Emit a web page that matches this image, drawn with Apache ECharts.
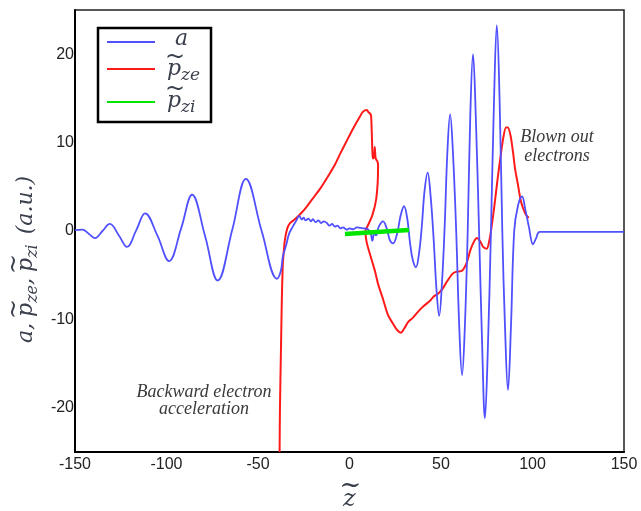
<!DOCTYPE html>
<html><head><meta charset="utf-8">
<script src="https://cdn.jsdelivr.net/npm/echarts@6/dist/echarts.min.js"></script>
<style>html,body{margin:0;padding:0;background:#fff}#c{width:641px;height:511px}</style>
</head><body><div id="c"></div>
<script>
// ---------- data ----------
const xTicks = [-150, -100, -50, 0, 50, 100, 150];
const yTicks = [-20, -10, 0, 10, 20];

// laser field a
const aZ = [-150,-146,-142.5,-139,-135,-131,-126,-121.6,-116.5,-111.7,-105,-98.6,-92,-86,-79,-72,-64,-56.6,-48,-39.6,
  -37.5,-36.5,-35.5,-34.5,-33,-31,-29,-27.5,-26,-25,-24,-22.5,-21,-20,-18.5,-17,-15.5,-14,-12.3,-11,-9.5,-8,-6.5,-5,-3.5,-1.5,0,2,4,6,8,10,11.5,12.5,13.5,14.5,16,18.3,20.5,22,23.8,26,28,29.8,31.5,33,34.5,36.3,38,39.5,41,42.7,44.3,46,47.5,49,50.5,52,53.5,55,56.5,58.3,60,61.5,63,64.6,66,67.5,69,70.8,72.5,74,75.5,77.3,79,80.5,82,83.5,85,86.6,88.2,90,92,94.3,96,98,100.3,102,104,150];
const aVal = [0.1,0.15,-0.3,-0.8,0,0.8,-0.5,-1.8,0.1,2.0,-0.5,-3.4,0.3,4.1,-0.5,-5.6,0.2,5.9,0,-5.4,
  -4.5,-3,-2.2,-1.5,-0.3,0.5,1.2,1.7,1.3,1.5,1.2,1.4,1.1,1.35,1.0,1.2,0.9,1.1,0.9,0.6,0.8,0.5,0.6,0.3,0.4,0.15,0.3,0.2,0.4,0.35,0.3,0.2,-0.2,-1.1,-0.3,-0.5,0.5,1.1,0.2,-1.0,-1.4,-0.3,1.8,2.8,1.5,-1.2,-3.2,-4.1,-2.5,0.5,4.5,6.6,4,-1,-6.5,-9.6,-6,0.5,9,13.2,9,0,-11,-16.3,-11,0,13,20,13,0,-13,-21.2,-14,0,15,23.3,15,0,-11,-18,-11,0,2.8,3.9,2.5,0.5,-1.5,-0.8,-0.1,-0.1];

// electron momentum p_ze
const pzeZ = [-38.2,-38,-37.5,-37,-36.5,-36,-35.3,-34,-32.5,-30,-27,-24,-20,-16,-12.3,-8,-5.2,-1.5,2,5,7.4,9.5,10.5,11.2,11.8,12.2,12.5,12.8,13.5,13.8,14.3,15.2,15.6,15.4,14.5,12.5,10,8.7,9.3,11,12.3,14,15.6,18,21,23.8,26,28.1,30,32,34.7,38,41,44,46,48.4,51,53,56,58.5,61.5,64,66,68,69.7,71.5,73,75,76.5,78,79.5,81,82.2,84,85.5,86.5,88,89.3,90.5,92,93.5,94.8,96.5,98];
const pzeVal = [-25,-20,-14,-8,-4,-2.5,-1,0.3,0.9,1.3,1.9,2.6,3.7,4.8,6,7.5,8.7,10.2,11.6,12.7,13.5,13.7,13.4,13.3,13.0,11,9,8.2,8.4,9.5,8.2,7.9,7.5,5.5,3.5,1.8,0.6,0,-1.2,-2.5,-3.4,-4.6,-6,-7.5,-9.5,-10.5,-11.2,-11.5,-11,-10.3,-9.8,-9,-8.4,-7.9,-7.4,-7.1,-6.5,-5.8,-4.9,-4.6,-4.5,-3.6,-2.2,-1.2,-0.8,-1.2,-1.8,-2.0,-1,1,3.4,6,7.9,10.5,11.7,11.7,10.8,9,7,5.3,3.5,2.6,1.8,1.5];

// ion momentum p_zi
const pziZ = [-2.5, 15, 32.5];
const pziVal = [-0.35, -0.1, 0.12];

const zip = (xs, ys) => xs.map((x, i) => [x, ys[i]]);

// ---------- text helpers ----------
const mctx = document.createElement('canvas').getContext('2d');
const MATH = '"DejaVu Serif"';
function mathRow(pieces, x0, yBase, color, z) {
  const els = []; let x = x0;
  pieces.forEach(p => {
    const font = `italic ${p.size}px ${MATH}`;
    mctx.font = font;
    const w = mctx.measureText(p.t).width;
    const base = yBase + (p.dy || 0);
    els.push({type: 'text', x: x, y: base - 0.3 * p.size, z: z || 10,
      style: {text: p.t, font: font, fill: color, align: 'left', verticalAlign: 'middle'}});
    if (p.tilde) {
      els.push({type: 'text', x: x + w / 2 + 1, y: base - p.size * 0.85, z: z || 10,
        style: {text: '~', font: `${Math.round(p.size*1.1)}px ${MATH}`, fill: color, align: 'center', verticalAlign: 'middle'}});
    }
    x += w + (p.gap || 0);
  });
  return els;
}

const labColor = '#3a3f4c';
const yLabelPieces = [
  {t: 'a,', size: 22, gap: 6},
  {t: 'p', size: 22, tilde: true},
  {t: 'ze', size: 16, dy: 5},
  {t: ',', size: 22, gap: 6},
  {t: 'p', size: 22, tilde: true},
  {t: 'zi', size: 16, dy: 5, gap: 10},
  {t: '(a.u.)', size: 22}
];

const legendColors = ['#5050ff', '#ff1a1a', '#00e600'];
const legendY = [42, 69, 102];

const graphic = [
  // y axis label (rotated)
  {type: 'group', x: 33, y: 343, rotation: Math.PI / 2, children: mathRow(yLabelPieces, 0, 0, labColor)},
  // x axis label
  {type: 'group', children: mathRow([{t: 'z', size: 24, tilde: true}], 343, 507, labColor)},
  // legend box
  {type: 'rect', shape: {x: 98, y: 28, width: 113, height: 94}, style: {fill: '#fff', stroke: '#000', lineWidth: 2.5}, z: 100},
  ...legendColors.map((c, i) => ({type: 'line', shape: {x1: 107, y1: legendY[i], x2: 155, y2: legendY[i]},
    style: {stroke: c, lineWidth: 2.2}, z: 101})),
  {type: 'group', children: mathRow([{t: 'a', size: 22}], 175, 46, labColor, 102)},
  {type: 'group', children: mathRow([{t: 'p', size: 22, tilde: true}, {t: 'ze', size: 17, dy: 5}], 167, 76, labColor, 102)},
  {type: 'group', children: mathRow([{t: 'p', size: 22, tilde: true}, {t: 'zi', size: 17, dy: 5}], 167, 108, labColor, 102)},
  // annotations
  {type: 'text', x: 557, y: 147, style: {text: 'Blown out\nelectrons', font: 'italic 18px "Liberation Serif"', lineHeight: 19, fill: '#3a3a3a', align: 'center', verticalAlign: 'middle'}},
  {type: 'text', x: 204, y: 401, style: {text: 'Backward electron\nacceleration', font: 'italic 18px "Liberation Serif"', lineHeight: 17, fill: '#3a3a3a', align: 'center', verticalAlign: 'middle'}}
];

const chart = echarts.init(document.getElementById('c'), null, {renderer: 'canvas'});
chart.setOption({
  animation: false,
  backgroundColor: '#fff',
  grid: {left: 75, right: 17, top: 10, bottom: 59, show: true, borderColor: '#222', borderWidth: 1.5, backgroundColor: 'transparent'},
  xAxis: {
    type: 'value', min: xTicks[0], max: xTicks[xTicks.length - 1], interval: 50,
    axisLine: {show: true, onZero: false, lineStyle: {color: '#000', width: 2}},
    axisTick: {show: false}, splitLine: {show: false},
    axisLabel: {color: '#222', fontSize: 16, fontFamily: '"Liberation Sans", Arial', margin: 5}
  },
  yAxis: {
    type: 'value', min: -25, max: 25,
    axisLine: {show: true, onZero: false, lineStyle: {color: '#000', width: 2}},
    axisTick: {show: false}, splitLine: {show: false},
    axisLabel: {customValues: yTicks, color: '#222', fontSize: 16, fontFamily: '"Liberation Sans", Arial', margin: 1}
  },
  series: [
    {name: 'a', type: 'line', data: zip(aZ, aVal), showSymbol: false, smooth: 0.4,
      lineStyle: {color: legendColors[0], width: 1.8}, z: 3},
    {name: 'p_ze', type: 'line', data: zip(pzeZ, pzeVal), showSymbol: false, smooth: 0.25,
      lineStyle: {color: legendColors[1], width: 2}, z: 2},
    {name: 'p_zi', type: 'line', data: zip(pziZ, pziVal), showSymbol: false,
      lineStyle: {color: legendColors[2], width: 4.5}, z: 4}
  ],
  graphic: graphic
});
</script>
</body></html>
